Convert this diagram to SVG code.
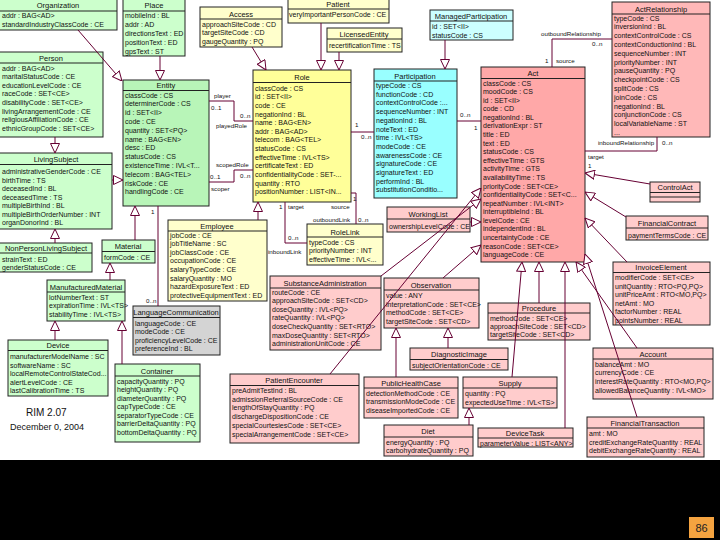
<svg xmlns="http://www.w3.org/2000/svg" width="720" height="540" viewBox="0 0 720 540">
<style>
.b{stroke:#222;stroke-width:1}
.g{fill:#ccffcc}.ge{fill:#b8f5b8}.y{fill:#ffffcc}.yy{fill:#ffff99}.c{fill:#99ffff}.c2{fill:#ccffff}
.p{fill:#ffcccc}.pp{fill:#ffa8a8}.pr{fill:#ffb8b8}.gr{fill:#d4d4d4}
.d{stroke:#222;stroke-width:1}
.t{font-family:"Liberation Sans",Arial,sans-serif;font-size:7.5px;text-anchor:middle;fill:#111}
.a{font-family:"Liberation Sans",Arial,sans-serif;font-size:7px;fill:#111}
.l{font-family:"Liberation Sans",Arial,sans-serif;font-size:6.2px;fill:#111}
.ln{stroke:#660033;stroke-width:1;fill:none}
.gn{stroke:#660033;stroke-width:1;fill:none;marker-end:url(#gen)}
</style>
<defs>
<marker id="gen" viewBox="0 0 10 10" refX="10" refY="5" markerWidth="10" markerHeight="10" markerUnits="userSpaceOnUse" orient="auto">
<path d="M0.5,0.5 L10,5 L0.5,9.5 Z" fill="#fff" stroke="#660033" stroke-width="1"/>
</marker>
</defs>
<rect x="0" y="0" width="720" height="540" fill="#fff"/>

<g id="Organization"><rect class="b g" x="-1" y="-1" width="118" height="31"/><line class="d" x1="-1" y1="11" x2="117" y2="11"/><text class="t" x="58" y="8">Organization</text>
<text class="a"><tspan x="2" y="18">addr : BAG&lt;AD&gt;</tspan><tspan x="2" y="27">standardIndustryClassCode : CE</tspan></text></g>

<g id="Place"><rect class="b g" x="123" y="-1" width="62" height="57"/><line class="d" x1="123" y1="11" x2="185" y2="11"/><text class="t" x="154" y="8">Place</text>
<text class="a"><tspan x="125" y="18">mobileInd : BL</tspan><tspan x="125" y="27">addr : AD</tspan><tspan x="125" y="36">directionsText : ED</tspan><tspan x="125" y="45">positionText : ED</tspan><tspan x="125" y="54">gpsText : ST</tspan></text></g>

<g id="Access"><rect class="b y" x="200" y="7" width="82" height="40"/><line class="d" x1="200" y1="19" x2="282" y2="19"/><text class="t" x="241" y="16.5">Access</text>
<text class="a"><tspan x="202" y="26.5">approachSiteCode : CD</tspan><tspan x="202" y="35">targetSiteCode : CD</tspan><tspan x="202" y="43.5">gaugeQuantity : PQ</tspan></text></g>

<g id="Patient"><rect class="b y" x="288" y="-1" width="101" height="24"/><line class="d" x1="288" y1="9" x2="389" y2="9"/><text class="t" x="338" y="6.5">Patient</text>
<text class="a"><tspan x="289" y="17">veryImportantPersonCode : CE</tspan></text></g>

<g id="LicensedEntity"><rect class="b y" x="327" y="28" width="75" height="24"/><line class="d" x1="327" y1="39" x2="402" y2="39"/><text class="t" x="364" y="36.5">LicensedEntity</text>
<text class="a"><tspan x="329" y="48">recertificationTime : TS</tspan></text></g>

<g id="ManagedParticipation"><rect class="b c2" x="430" y="10" width="83" height="30"/><line class="d" x1="430" y1="21" x2="513" y2="21"/><text class="t" x="471" y="19">ManagedParticipation</text>
<text class="a"><tspan x="432" y="28.5">id : SET&lt;II&gt;</tspan><tspan x="432" y="37.5">statusCode : CS</tspan></text></g>

<g id="ActRelationship"><rect class="b pr" x="612" y="2" width="98" height="135"/><line class="d" x1="612" y1="14" x2="710" y2="14"/><text class="t" x="661" y="12">ActRelationship</text>
<text class="a"><tspan x="614" y="20.5">typeCode : CS</tspan><tspan x="614" y="29.3">inversionInd : BL</tspan><tspan x="614" y="38.1">contextControlCode : CS</tspan><tspan x="614" y="46.9">contextConductionInd : BL</tspan><tspan x="614" y="55.7">sequenceNumber : INT</tspan><tspan x="614" y="64.5">priorityNumber : INT</tspan><tspan x="614" y="73.3">pauseQuantity : PQ</tspan><tspan x="614" y="82.1">checkpointCode : CS</tspan><tspan x="614" y="90.9">splitCode : CS</tspan><tspan x="614" y="99.7">joinCode : CS</tspan><tspan x="614" y="108.5">negationInd : BL</tspan><tspan x="614" y="117.3">conjunctionCode : CS</tspan><tspan x="614" y="126.1">localVariableName : ST</tspan><tspan x="614" y="134.9">...</tspan></text></g>

<g id="Person"><rect class="b g" x="-1" y="52" width="104" height="85"/><line class="d" x1="-1" y1="63" x2="103" y2="63"/><text class="t" x="51" y="60.5">Person</text>
<text class="a"><tspan x="2" y="70.5">addr : BAG&lt;AD&gt;</tspan><tspan x="2" y="79.1">maritalStatusCode : CE</tspan><tspan x="2" y="87.7">educationLevelCode : CE</tspan><tspan x="2" y="96.3">raceCode : SET&lt;CE&gt;</tspan><tspan x="2" y="104.9">disabilityCode : SET&lt;CE&gt;</tspan><tspan x="2" y="113.5">livingArrangementCode : CE</tspan><tspan x="2" y="122.1">religiousAffiliationCode : CE</tspan><tspan x="2" y="130.7">ethnicGroupCode : SET&lt;CE&gt;</tspan></text></g>

<g id="Entity"><rect class="b ge" x="123" y="80" width="86" height="126"/><line class="d" x1="123" y1="90.5" x2="209" y2="90.5"/><text class="t" x="166" y="88">Entity</text>
<text class="a"><tspan x="125" y="97.5">classCode : CS</tspan><tspan x="125" y="106.3">determinerCode : CS</tspan><tspan x="125" y="115.1">id : SET&lt;II&gt;</tspan><tspan x="125" y="123.9">code : CE</tspan><tspan x="125" y="132.7">quantity : SET&lt;PQ&gt;</tspan><tspan x="125" y="141.5">name : BAG&lt;EN&gt;</tspan><tspan x="125" y="150.3">desc : ED</tspan><tspan x="125" y="159.1">statusCode : CS</tspan><tspan x="125" y="167.9">existenceTime : IVL&lt;T...</tspan><tspan x="125" y="176.7">telecom : BAG&lt;TEL&gt;</tspan><tspan x="125" y="185.5">riskCode : CE</tspan><tspan x="125" y="194.3">handlingCode : CE</tspan></text></g>

<g id="Role"><rect class="b yy" x="253" y="70" width="98" height="132"/><line class="d" x1="253" y1="82.5" x2="351" y2="82.5"/><text class="t" x="302" y="79.5">Role</text>
<text class="a"><tspan x="255" y="90.5">classCode : CS</tspan><tspan x="255" y="99.2">id : SET&lt;II&gt;</tspan><tspan x="255" y="107.8">code : CE</tspan><tspan x="255" y="116.5">negationInd : BL</tspan><tspan x="255" y="125.1">name : BAG&lt;EN&gt;</tspan><tspan x="255" y="133.8">addr : BAG&lt;AD&gt;</tspan><tspan x="255" y="142.4">telecom : BAG&lt;TEL&gt;</tspan><tspan x="255" y="151">statusCode : CS</tspan><tspan x="255" y="159.7">effectiveTime : IVL&lt;TS&gt;</tspan><tspan x="255" y="168.4">certificateText : ED</tspan><tspan x="255" y="177">confidentialityCode : SET-...</tspan><tspan x="255" y="185.7">quantity : RTO</tspan><tspan x="255" y="194.3">positionNumber : LIST&lt;IN...</tspan></text></g>

<g id="Participation"><rect class="b c" x="374" y="69" width="83" height="129"/><line class="d" x1="374" y1="81" x2="457" y2="81"/><text class="t" x="415" y="78.5">Participation</text>
<text class="a"><tspan x="376" y="88">typeCode : CS</tspan><tspan x="376" y="96.7">functionCode : CD</tspan><tspan x="376" y="105.4">contextControlCode :...</tspan><tspan x="376" y="114.1">sequenceNumber : INT</tspan><tspan x="376" y="122.8">negationInd : BL</tspan><tspan x="376" y="131.5">noteText : ED</tspan><tspan x="376" y="140.2">time : IVL&lt;TS&gt;</tspan><tspan x="376" y="148.9">modeCode : CE</tspan><tspan x="376" y="157.6">awarenessCode : CE</tspan><tspan x="376" y="166.3">signatureCode : CE</tspan><tspan x="376" y="175">signatureText : ED</tspan><tspan x="376" y="183.7">performInd : BL</tspan><tspan x="376" y="192.4">substitutionConditio...</tspan></text></g>

<g id="Act"><rect class="b pp" x="481" y="67" width="104" height="195"/><line class="d" x1="481" y1="78.5" x2="585" y2="78.5"/><text class="t" x="533" y="75.5">Act</text>
<text class="a"><tspan x="483" y="85.5">classCode : CS</tspan><tspan x="483" y="94.1">moodCode : CS</tspan><tspan x="483" y="102.7">id : SET&lt;II&gt;</tspan><tspan x="483" y="111.2">code : CD</tspan><tspan x="483" y="119.8">negationInd : BL</tspan><tspan x="483" y="128.4">derivationExpr : ST</tspan><tspan x="483" y="137">title : ED</tspan><tspan x="483" y="145.6">text : ED</tspan><tspan x="483" y="154.1">statusCode : CS</tspan><tspan x="483" y="162.7">effectiveTime : GTS</tspan><tspan x="483" y="171.3">activityTime : GTS</tspan><tspan x="483" y="179.9">availabilityTime : TS</tspan><tspan x="483" y="188.5">priorityCode : SET&lt;CE&gt;</tspan><tspan x="483" y="197">confidentialityCode : SET&lt;C...</tspan><tspan x="483" y="205.6">repeatNumber : IVL&lt;INT&gt;</tspan><tspan x="483" y="214.2">interruptibleInd : BL</tspan><tspan x="483" y="222.8">levelCode : CE</tspan><tspan x="483" y="231.4">independentInd : BL</tspan><tspan x="483" y="239.9">uncertaintyCode : CE</tspan><tspan x="483" y="248.5">reasonCode : SET&lt;CE&gt;</tspan><tspan x="483" y="257.1">languageCode : CE</tspan></text></g>

<g id="LivingSubject"><rect class="b g" x="-1" y="153" width="113" height="76"/><line class="d" x1="-1" y1="164.5" x2="112" y2="164.5"/><text class="t" x="56" y="161.5">LivingSubject</text>
<text class="a"><tspan x="2" y="174">administrativeGenderCode : CE</tspan><tspan x="2" y="182.5">birthTime : TS</tspan><tspan x="2" y="191">deceasedInd : BL</tspan><tspan x="2" y="199.5">deceasedTime : TS</tspan><tspan x="2" y="208">multipleBirthInd : BL</tspan><tspan x="2" y="216.5">multipleBirthOrderNumber : INT</tspan><tspan x="2" y="225">organDonorInd : BL</tspan></text></g>

<g id="NonPersonLivingSubject"><rect class="b g" x="-1" y="243" width="93" height="29"/><line class="d" x1="-1" y1="253" x2="92" y2="253"/><text class="t" x="46" y="250.5">NonPersonLivingSubject</text>
<text class="a"><tspan x="2" y="261.5">strainText : ED</tspan><tspan x="2" y="270">genderStatusCode : CE</tspan></text></g>

<g id="Material"><rect class="b g" x="102" y="240" width="53" height="23"/><line class="d" x1="102" y1="251.5" x2="155" y2="251.5"/><text class="t" x="128" y="248.5">Material</text>
<text class="a"><tspan x="104" y="260">formCode : CE</tspan></text></g>

<g id="ManufacturedMaterial"><rect class="b g" x="47" y="280" width="78" height="41"/><line class="d" x1="47" y1="292" x2="125" y2="292"/><text class="t" x="86" y="289.5">ManufacturedMaterial</text>
<text class="a"><tspan x="49" y="299.5">lotNumberText : ST</tspan><tspan x="49" y="308">expirationTime : IVL&lt;TS&gt;</tspan><tspan x="49" y="316.5">stabilityTime : IVL&lt;TS&gt;</tspan></text></g>

<g id="Device"><rect class="b g" x="8" y="340" width="100" height="56"/><line class="d" x1="8" y1="350.5" x2="108" y2="350.5"/><text class="t" x="58" y="348">Device</text>
<text class="a"><tspan x="10" y="359">manufacturerModelName : SC</tspan><tspan x="10" y="367.5">softwareName : SC</tspan><tspan x="10" y="376">localRemoteControlStateCod...</tspan><tspan x="10" y="384.5">alertLevelCode : CE</tspan><tspan x="10" y="393">lastCalibrationTime : TS</tspan></text></g>

<g id="Container"><rect class="b g" x="115" y="364" width="85" height="78"/><line class="d" x1="115" y1="376" x2="200" y2="376"/><text class="t" x="157" y="373.5">Container</text>
<text class="a"><tspan x="117" y="383.5">capacityQuantity : PQ</tspan><tspan x="117" y="392">heightQuantity : PQ</tspan><tspan x="117" y="400.5">diameterQuantity : PQ</tspan><tspan x="117" y="409">capTypeCode : CE</tspan><tspan x="117" y="417.5">separatorTypeCode : CE</tspan><tspan x="117" y="426">barrierDeltaQuantity : PQ</tspan><tspan x="117" y="434.5">bottomDeltaQuantity : PQ</tspan></text></g>

<g id="LanguageCommunication"><rect class="b gr" x="133" y="306" width="87" height="49"/><line class="d" x1="133" y1="317.5" x2="220" y2="317.5"/><text class="t" x="176" y="314.5">LanguageCommunication</text>
<text class="a"><tspan x="135" y="325.5">languageCode : CE</tspan><tspan x="135" y="334">modeCode : CE</tspan><tspan x="135" y="342.5">proficiencyLevelCode : CE</tspan><tspan x="135" y="351">preferenceInd : BL</tspan></text></g>

<g id="Employee"><rect class="b y" x="168" y="220" width="99" height="81"/><line class="d" x1="168" y1="231" x2="267" y2="231"/><text class="t" x="217" y="228.5">Employee</text>
<text class="a"><tspan x="170" y="237.5">jobCode : CE</tspan><tspan x="170" y="246.1">jobTitleName : SC</tspan><tspan x="170" y="254.7">jobClassCode : CE</tspan><tspan x="170" y="263.3">occupationCode : CE</tspan><tspan x="170" y="271.9">salaryTypeCode : CE</tspan><tspan x="170" y="280.5">salaryQuantity : MO</tspan><tspan x="170" y="289.1">hazardExposureText : ED</tspan><tspan x="170" y="297.7">protectiveEquipmentText : ED</tspan></text></g>

<g id="RoleLink"><rect class="b y" x="307" y="224" width="76" height="41"/><line class="d" x1="307" y1="237" x2="383" y2="237"/><text class="t" x="345" y="234.5">RoleLink</text>
<text class="a"><tspan x="309" y="244.5">typeCode : CS</tspan><tspan x="309" y="253">priorityNumber : INT</tspan><tspan x="309" y="261.5">effectiveTime : IVL&lt;...</tspan></text></g>

<g id="WorkingList"><rect class="b p" x="387" y="207" width="83" height="25"/><line class="d" x1="387" y1="219" x2="470" y2="219"/><text class="t" x="428" y="216.5">WorkingList</text>
<text class="a"><tspan x="389" y="228.5">ownershipLevelCode : CE</tspan></text></g>

<g id="ControlAct"><rect class="b p" x="650" y="182" width="50" height="20"/><line class="d" x1="650" y1="192.5" x2="700" y2="192.5"/><line class="d" x1="650" y1="197" x2="700" y2="197"/><text class="t" x="675" y="190">ControlAct</text></g>

<g id="FinancialContract"><rect class="b p" x="626" y="216" width="82" height="24"/><line class="d" x1="626" y1="228" x2="708" y2="228"/><text class="t" x="667" y="225.5">FinancialContract</text>
<text class="a"><tspan x="628" y="237.5">paymentTermsCode : CE</tspan></text></g>

<g id="InvoiceElement"><rect class="b p" x="613" y="262" width="97" height="63"/><line class="d" x1="613" y1="272.5" x2="710" y2="272.5"/><text class="t" x="661" y="270">InvoiceElement</text>
<text class="a"><tspan x="615" y="280">modifierCode : SET&lt;CE&gt;</tspan><tspan x="615" y="288.5">unitQuantity : RTO&lt;PQ,PQ&gt;</tspan><tspan x="615" y="297">unitPriceAmt : RTO&lt;MO,PQ&gt;</tspan><tspan x="615" y="305.5">netAmt : MO</tspan><tspan x="615" y="314">factorNumber : REAL</tspan><tspan x="615" y="322.5">pointsNumber : REAL</tspan></text></g>

<g id="SubstanceAdministration"><rect class="b p" x="270" y="276" width="111" height="74"/><line class="d" x1="270" y1="288" x2="381" y2="288"/><text class="t" x="325" y="285.5">SubstanceAdministration</text>
<text class="a"><tspan x="272" y="294.5">routeCode : CE</tspan><tspan x="272" y="303.1">approachSiteCode : SET&lt;CD&gt;</tspan><tspan x="272" y="311.7">doseQuantity : IVL&lt;PQ&gt;</tspan><tspan x="272" y="320.3">rateQuantity : IVL&lt;PQ&gt;</tspan><tspan x="272" y="328.9">doseCheckQuantity : SET&lt;RTO&gt;</tspan><tspan x="272" y="337.5">maxDoseQuantity : SET&lt;RTO&gt;</tspan><tspan x="272" y="346.1">administrationUnitCode : CE</tspan></text></g>

<g id="Observation"><rect class="b p" x="384" y="278" width="95" height="50"/><line class="d" x1="384" y1="290" x2="479" y2="290"/><text class="t" x="431" y="287.5">Observation</text>
<text class="a"><tspan x="386" y="297.5">value : ANY</tspan><tspan x="386" y="306.5">interpretationCode : SET&lt;CE&gt;</tspan><tspan x="386" y="315">methodCode : SET&lt;CE&gt;</tspan><tspan x="386" y="323.5">targetSiteCode : SET&lt;CD&gt;</tspan></text></g>

<g id="Procedure"><rect class="b p" x="488" y="303" width="102" height="37"/><line class="d" x1="488" y1="313" x2="590" y2="313"/><text class="t" x="539" y="310.5">Procedure</text>
<text class="a"><tspan x="490" y="320.5">methodCode : SET&lt;CE&gt;</tspan><tspan x="490" y="328.8">approachSiteCode : SET&lt;CD&gt;</tspan><tspan x="490" y="337">targetSiteCode : SET&lt;CD&gt;</tspan></text></g>

<g id="DiagnosticImage"><rect class="b p" x="410" y="348" width="98" height="22"/><line class="d" x1="410" y1="359.5" x2="508" y2="359.5"/><text class="t" x="459" y="356.5">DiagnosticImage</text>
<text class="a"><tspan x="412" y="367.5">subjectOrientationCode : CE</tspan></text></g>

<g id="PublicHealthCase"><rect class="b p" x="364" y="377" width="94" height="41"/><line class="d" x1="364" y1="388" x2="458" y2="388"/><text class="t" x="411" y="385.5">PublicHealthCase</text>
<text class="a"><tspan x="366" y="395.5">detectionMethodCode : CE</tspan><tspan x="366" y="404">transmissionModeCode : CE</tspan><tspan x="366" y="412.5">diseaseImportedCode : CE</tspan></text></g>

<g id="PatientEncounter"><rect class="b p" x="230" y="374" width="129" height="69"/><line class="d" x1="230" y1="385.5" x2="359" y2="385.5"/><text class="t" x="294" y="383">PatientEncounter</text>
<text class="a"><tspan x="232" y="393">preAdmitTestInd : BL</tspan><tspan x="232" y="401.7">admissionReferralSourceCode : CE</tspan><tspan x="232" y="410.4">lengthOfStayQuantity : PQ</tspan><tspan x="232" y="419.1">dischargeDispositionCode : CE</tspan><tspan x="232" y="427.8">specialCourtesiesCode : SET&lt;CE&gt;</tspan><tspan x="232" y="436.5">specialArrangementCode : SET&lt;CE&gt;</tspan></text></g>

<g id="Supply"><rect class="b p" x="463" y="377" width="94" height="31"/><line class="d" x1="463" y1="388" x2="557" y2="388"/><text class="t" x="510" y="385.5">Supply</text>
<text class="a"><tspan x="465" y="395.5">quantity : PQ</tspan><tspan x="465" y="404.5">expectedUseTime : IVL&lt;TS&gt;</tspan></text></g>

<g id="Diet"><rect class="b p" x="384" y="425" width="89" height="31"/><line class="d" x1="384" y1="437" x2="473" y2="437"/><text class="t" x="428" y="434">Diet</text>
<text class="a"><tspan x="386" y="444.5">energyQuantity : PQ</tspan><tspan x="386" y="453">carbohydrateQuantity : PQ</tspan></text></g>

<g id="DeviceTask"><rect class="b p" x="478" y="428" width="95" height="19"/><line class="d" x1="478" y1="438" x2="573" y2="438"/><text class="t" x="525" y="435.5">DeviceTask</text>
<text class="a"><tspan x="480" y="445.5">parameterValue : LIST&lt;ANY&gt;</tspan></text></g>

<g id="Account"><rect class="b p" x="593" y="348" width="120" height="51"/><line class="d" x1="593" y1="359" x2="713" y2="359"/><text class="t" x="653" y="356.5">Account</text>
<text class="a"><tspan x="595" y="366.5">balanceAmt : MO</tspan><tspan x="595" y="375">currencyCode : CE</tspan><tspan x="595" y="383.5">interestRateQuantity : RTO&lt;MO,PQ&gt;</tspan><tspan x="595" y="392.5">allowedBalanceQuantity : IVL&lt;MO&gt;</tspan></text></g>

<g id="FinancialTransaction"><rect class="b p" x="587" y="417" width="117" height="40"/><line class="d" x1="587" y1="428" x2="704" y2="428"/><text class="t" x="645" y="425.5">FinancialTransaction</text>
<text class="a"><tspan x="589" y="435.5">amt : MO</tspan><tspan x="589" y="444.5">creditExchangeRateQuantity : REAL</tspan><tspan x="589" y="453">debitExchangeRateQuantity : REAL</tspan></text></g>

<g id="connectors">
<path class="gn" d="M78,30 L122,81"/>
<path class="gn" d="M160,56 V80"/>
<path class="gn" d="M55,137 V153"/>
<path class="gn" d="M112,180 H123"/>
<path class="gn" d="M55,243 V229"/>
<path class="gn" d="M135,240 V206"/>
<path class="gn" d="M110,280 V263"/>
<path class="gn" d="M55,340 V321"/>
<path class="gn" d="M122,364 V321"/>
<path class="gn" d="M258,220 V202"/>
<path class="gn" d="M321,23 V70"/>
<path class="gn" d="M339,52 V70"/>
<path class="gn" d="M252,47 L266,70"/>
<path class="gn" d="M445,40 V69"/>
<path class="gn" d="M650,184 L585,173"/>
<path class="gn" d="M626,217 L585,192"/>
<path class="gn" d="M627,262 L585,218"/>
<path class="gn" d="M637,348 L576,262"/>
<path class="gn" d="M637,417 L585,254"/>
<path class="gn" d="M539,303 V262"/>
<path class="gn" d="M512,377 L522,262"/>
<path class="gn" d="M565,428 V262"/>
<path class="gn" d="M469,425 V408"/>
<path class="gn" d="M330,374 L481,188"/>
<path class="gn" d="M381,276 L481,199"/>
<path class="gn" d="M470,222 H481"/>
<path class="gn" d="M443,278 L481,245"/>
<path class="gn" d="M396,377 V328"/>
<path class="gn" d="M448,348 V328"/>
<path class="ln" d="M209,101 H234 V121 H253"/>
<path class="ln" d="M209,182 H234 V170 H253"/>
<path class="ln" d="M351,132 H374"/>
<path class="ln" d="M457,121 H481"/>
<path class="ln" d="M158,206 V306"/>
<path class="ln" d="M285,202 V243 H307"/>
<path class="ln" d="M351,193 H356 V224"/>
<path class="ln" d="M612,39 H552 V67"/>
<path class="ln" d="M657,137 V151 H585"/>
</g>

<g id="labels" class="l">
<text x="214" y="98">player</text><text x="211" y="110">0..1</text><text x="240" y="118">0..n</text><text x="216" y="128">playedRole</text>
<text x="216" y="167">scopedRole</text><text x="210" y="179">0..1</text><text x="211" y="191">scoper</text><text x="240" y="178">0..n</text>
<text x="355" y="127">1</text><text x="361" y="139">0..n</text>
<text x="460" y="117">0..n</text><text x="474" y="130">1</text>
<text x="151" y="214">1</text><text x="146" y="303">0..n</text>
<text x="279" y="209">1</text><text x="288" y="209">target</text><text x="288" y="240">0..n</text><text x="268" y="254">inboundLink</text>
<text x="331" y="209">source</text><text x="353" y="201">1</text><text x="313" y="222">outboundLink</text><text x="358" y="222">0..n</text>
<text x="541" y="36">outboundRelationship</text><text x="592" y="46">0..n</text><text x="545" y="63">1</text><text x="556" y="63">source</text>
<text x="598" y="145">inboundRelationship</text><text x="662" y="145">0..n</text><text x="588" y="159">target</text><text x="588" y="168">1</text>
</g>

<g id="caption">
<text x="26" y="416" style="font-family:'Liberation Sans',Arial,sans-serif;font-size:10px;fill:#111">RIM 2.07</text>
<text x="10" y="430" style="font-family:'Liberation Sans',Arial,sans-serif;font-size:9px;fill:#111">December 0, 2004</text>
</g>

<rect x="0" y="460" width="720" height="80" fill="#000"/>
<g id="page"><rect x="689" y="517" width="25" height="21" fill="#f4a340"/><text x="701.5" y="532" style="font-family:'Liberation Sans',Arial,sans-serif;font-size:11px;text-anchor:middle;fill:#222">86</text></g>
</svg>
